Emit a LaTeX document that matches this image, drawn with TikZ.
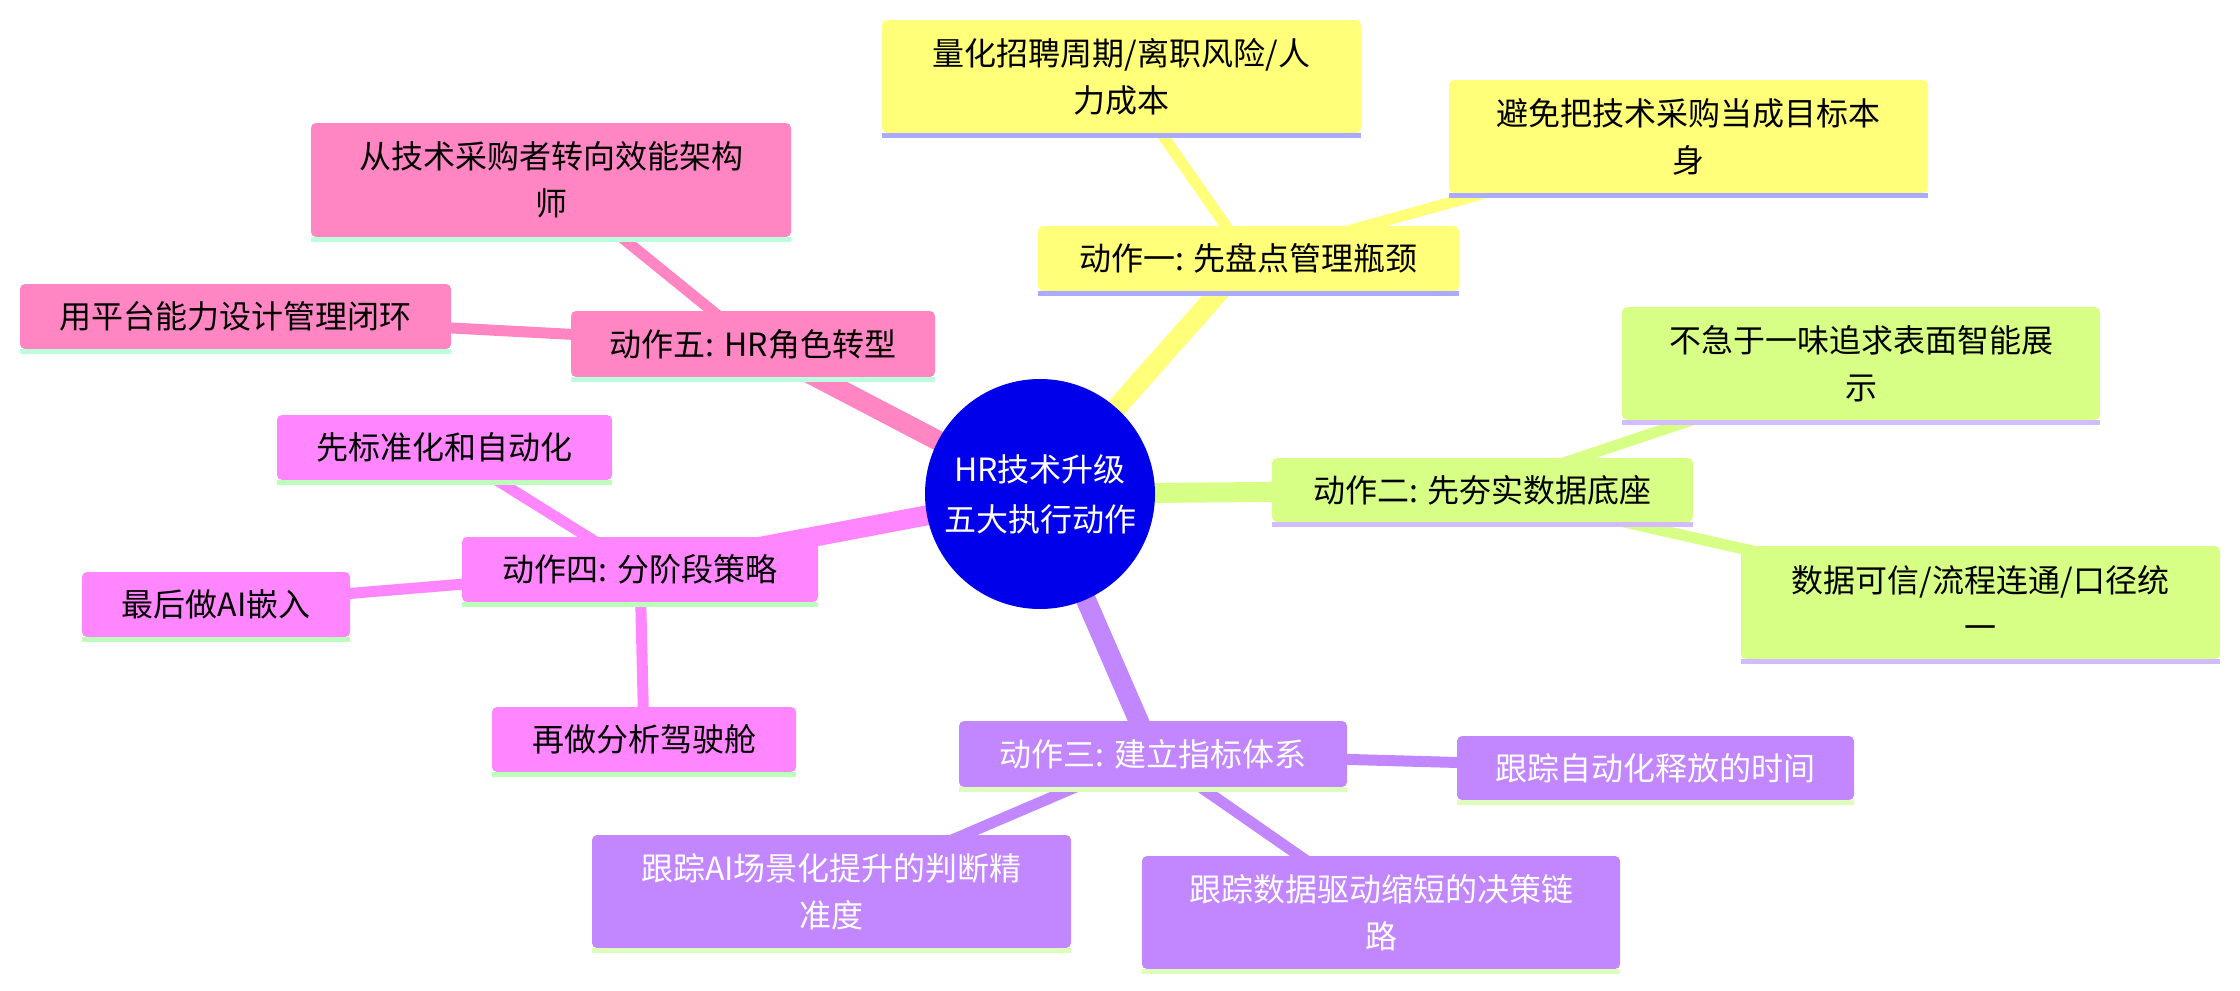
\documentclass[tikz,border=0pt]{standalone}
\usepackage{fontspec}
\newfontfamily\cjk{Noto Sans CJK SC}
\usetikzlibrary{backgrounds}
\definecolor{rootblue}{RGB}{0,0,234}
\definecolor{cY}{RGB}{255,255,122}
\definecolor{cYu}{RGB}{170,170,255}
\definecolor{cG}{RGB}{215,255,134}
\definecolor{cGu}{RGB}{210,188,255}
\definecolor{cP}{RGB}{194,134,255}
\definecolor{cPu}{RGB}{222,255,188}
\definecolor{cM}{RGB}{255,134,255}
\definecolor{cMu}{RGB}{187,255,187}
\definecolor{cK}{RGB}{255,134,194}
\definecolor{cKu}{RGB}{187,255,221}
\newcommand\mmbar[2]{\fill[#2] (#1.south west) rectangle ([yshift=-2.5pt]#1.south east);}
\begin{document}
\begin{tikzpicture}[x=0.5pt,y=-0.5pt,
  mm/.style={rectangle, rounded corners=2.5pt, inner sep=0pt, align=center,
    font=\cjk\fontsize{16}{23.5}\selectfont},
  sz/.style 2 args={minimum width=#1*0.5pt, minimum height=#2*0.5pt},
  bY/.style={mm, fill=cY, text=black},
  bG/.style={mm, fill=cG, text=black},
  bP/.style={mm, fill=cP, text=white},
  bM/.style={mm, fill=cM, text=black},
  bK/.style={mm, fill=cK, text=black},
  mainedge/.style={line width=10pt},
  subedge/.style={line width=5.5pt}]
\useasboundingbox (0,0) rectangle (2240,991);

% root
\node[circle, fill=rootblue, inner sep=0pt, minimum size=115pt, text=white, align=center,
  font=\cjk\fontsize{16}{25}\selectfont] (root) at (1040,494) {HR技术升级\\五大执行动作};

% branch 1 (yellow)
\node[bY, sz={421}{65}] (a1) at (1248.5,258.5) {动作一: 先盘点管理瓶颈};
\node[bY, sz={479}{113}] (a1c1) at (1121.5,76.5) {量化招聘周期/离职风险/人\\力成本};
\node[bY, sz={479}{113}] (a1c2) at (1688.5,136.5) {避免把技术采购当成目标本\\身};

% branch 2 (green)
\node[bG, sz={421}{64}] (a2) at (1482.5,490) {动作二: 先夯实数据底座};
\node[bG, sz={478}{113}] (a2c1) at (1861,363.5) {不急于一味追求表面智能展\\示};
\node[bG, sz={479}{113}] (a2c2) at (1980.5,602.5) {数据可信/流程连通/口径统\\一};

% branch 3 (purple)
\node[bP, sz={388}{66}] (a3) at (1153,754) {动作三: 建立指标体系};
\node[bP, sz={397}{64}] (a3c1) at (1655.5,768) {跟踪自动化释放的时间};
\node[bP, sz={479}{113}] (a3c2) at (831.5,891.5) {跟踪AI场景化提升的判断精\\准度};
\node[bP, sz={478}{113}] (a3c3) at (1381,912.5) {跟踪数据驱动缩短的决策链\\路};

% branch 4 (magenta)
\node[bM, sz={356}{65}] (a4) at (640,569.5) {动作四: 分阶段策略};
\node[bM, sz={335}{65}] (a4c1) at (444.5,447.5) {先标准化和自动化};
\node[bM, sz={268}{65}] (a4c2) at (216,604.5) {最后做AI嵌入};
\node[bM, sz={304}{65}] (a4c3) at (644,739.5) {再做分析驾驶舱};

% branch 5 (pink)
\node[bK, sz={364}{66}] (a5) at (753,344) {动作五: HR角色转型};
\node[bK, sz={480}{114}] (a5c1) at (551,180) {从技术采购者转向效能架构\\师};
\node[bK, sz={431}{65}] (a5c2) at (235.5,316.5) {用平台能力设计管理闭环};

% underline bars
\mmbar{a1}{cYu}\mmbar{a1c1}{cYu}\mmbar{a1c2}{cYu}
\mmbar{a2}{cGu}\mmbar{a2c1}{cGu}\mmbar{a2c2}{cGu}
\mmbar{a3}{cPu}\mmbar{a3c1}{cPu}\mmbar{a3c2}{cPu}\mmbar{a3c3}{cPu}
\mmbar{a4}{cMu}\mmbar{a4c1}{cMu}\mmbar{a4c2}{cMu}\mmbar{a4c3}{cMu}
\mmbar{a5}{cKu}\mmbar{a5c1}{cKu}\mmbar{a5c2}{cKu}

\begin{pgfonlayer}{background}
\draw[mainedge, cY] (root.center) -- (a1.center);
\draw[subedge, cY] (a1.center) -- (a1c1.center);
\draw[subedge, cY] (a1.center) -- (a1c2.center);
\draw[mainedge, cG] (root.center) -- (a2.center);
\draw[subedge, cG] (a2.center) -- (a2c1.center);
\draw[subedge, cG] (a2.center) -- (a2c2.center);
\draw[mainedge, cP] (root.center) -- (a3.center);
\draw[subedge, cP] (a3.center) -- (a3c1.center);
\draw[subedge, cP] (a3.center) -- (a3c2.center);
\draw[subedge, cP] (a3.center) -- (a3c3.center);
\draw[mainedge, cM] (root.center) -- (a4.center);
\draw[subedge, cM] (a4.center) -- (a4c1.center);
\draw[subedge, cM] (a4.center) -- (a4c2.center);
\draw[subedge, cM] (a4.center) -- (a4c3.center);
\draw[mainedge, cK] (root.center) -- (a5.center);
\draw[subedge, cK] (a5.center) -- (a5c1.center);
\draw[subedge, cK] (a5.center) -- (a5c2.center);
\end{pgfonlayer}
\end{tikzpicture}
\end{document}
